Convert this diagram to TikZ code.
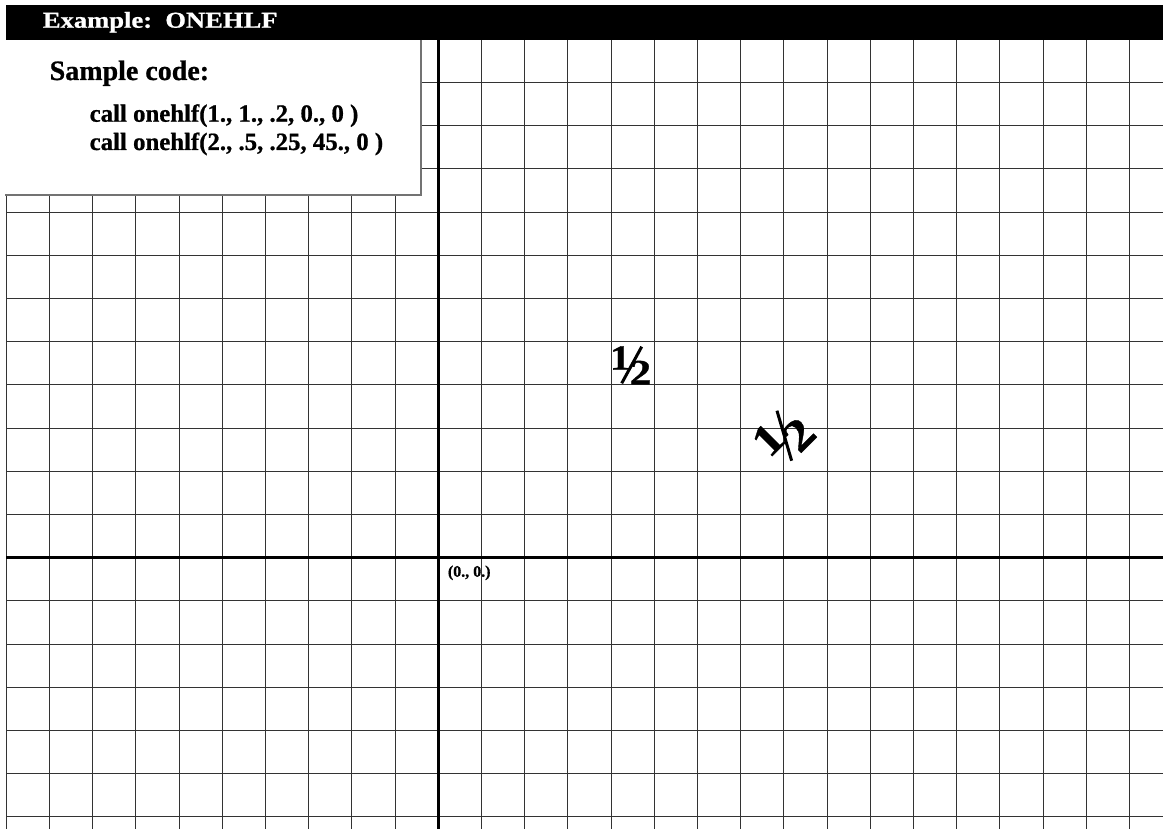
\documentclass[tikz,border=0pt]{standalone}
\usepackage{fontspec}
\setmainfont{Liberation Serif}[BoldFeatures={FakeBold=0.8}]
\usepackage{graphicx}
\begin{document}
\begin{tikzpicture}[x=1pt,y=-1pt,
  gridline/.style={line width=1.1pt,draw=black!80},
  axisline/.style={line width=2.8pt,draw=black},
  codetext/.style={font=\bfseries\fontsize{24.8}{28}\selectfont,inner sep=0pt,anchor=base west},
  digit/.style={inner sep=0pt,font=\bfseries\fontsize{35.5}{36}\selectfont,transform shape},
  fracslash/.style={line width=3pt,draw=black}]
\useasboundingbox (0,0) rectangle (1163,829);
\fill[white] (0,0) rectangle (1163,829);
% grid
\foreach \i in {0,...,26} \draw[gridline] ({6.3+43.2*\i},40) -- ({6.3+43.2*\i},829);
\foreach \j in {0,...,18} \draw[gridline] (6.3,{39.3+43.2*\j}) -- (1163,{39.3+43.2*\j});
% axes
\draw[axisline] (438.3,40) -- (438.3,829);
\draw[axisline] (6.3,557.7) -- (1163,557.7);
% title bar
\fill[black] (6,5) rectangle (1163,40);
\node[anchor=base west,inner sep=0pt,text=white] (title) at (42.7,27.7)
  {\scalebox{1.17}[1]{\bfseries\fontsize{22.7}{26}\selectfont Example:\ \ ONEHLF}};
% code box
\fill[white] (5,40) rectangle (421,195);
\draw[draw=black!55,line width=1.3pt] (421,40) -- (421,195) -- (5,195);
\node[anchor=base west,inner sep=0pt,font=\bfseries\fontsize{28}{32}\selectfont] (sample) at (49.5,80) {Sample code:};
\node[codetext] (code1) at (89.5,121.7) {call onehlf(1., 1., .2, 0., 0 )};
\node[codetext] (code2) at (89.5,150) {call onehlf(2., .5, .25, 45., 0 )};
% origin label
\node[anchor=base west,inner sep=0pt,font=\bfseries\fontsize{16}{18}\selectfont] (origin) at (447.7,576.7) {(0., 0.)};
% fraction 1/2, height .2, angle 0
\begin{scope}[shift={(632.5,365)}]
  \node[digit] (one1) at (-12.2,-7) {\scalebox{1.15}[1]{1}};
  \node[digit] (two1) at (8,7.5) {\scalebox{1.2}[1]{2}};
  \coordinate (s1a) at (9.2,-18.3);
  \coordinate (s1b) at (-10.8,18.3);
  \draw[fracslash] (s1a) -- (s1b);
\end{scope}
% fraction 1/2, height .25, angle 45
\begin{scope}[shift={(785,435)},rotate=45,scale=1.25]
  \node[digit] (one2) at (-12.2,-7) {\scalebox{1.15}[1]{1}};
  \node[digit] (two2) at (8,7.5) {\scalebox{1.2}[1]{2}};
  \coordinate (s2a) at (9.2,-18.3);
  \coordinate (s2b) at (-10.8,18.3);
  \draw[fracslash] (s2a) -- (s2b);
\end{scope}
\end{tikzpicture}
\end{document}
